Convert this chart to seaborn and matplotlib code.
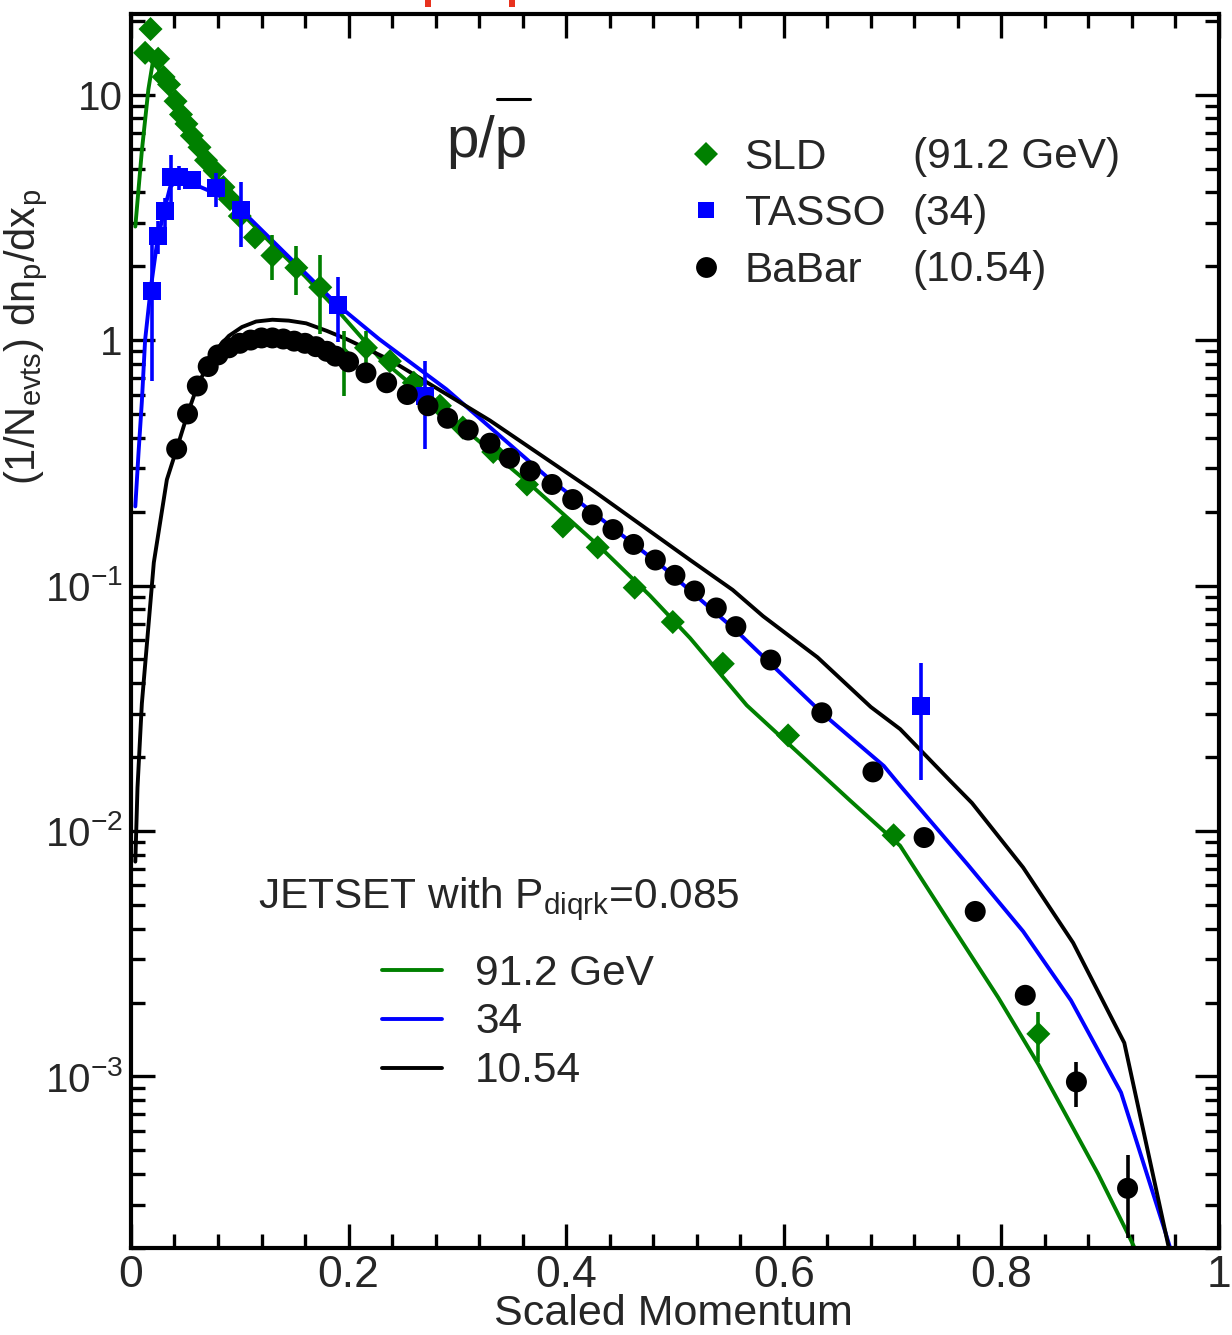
import numpy as np
import pandas as pd
import matplotlib
matplotlib.use("Agg")
import matplotlib.pyplot as plt
import seaborn as sns
from matplotlib.lines import Line2D
from matplotlib.patches import Rectangle
from matplotlib.ticker import MultipleLocator, LogLocator, FuncFormatter, NullFormatter

# ---------------- data ----------------
sld_x = [0.013, 0.018, 0.025, 0.030, 0.035, 0.041, 0.046, 0.051, 0.056, 0.063, 0.069,
         0.077, 0.085, 0.091, 0.100, 0.114, 0.130, 0.152, 0.174, 0.196, 0.216, 0.238,
         0.260, 0.284, 0.305, 0.333, 0.364, 0.397, 0.429, 0.463, 0.498, 0.544, 0.604,
         0.701, 0.834]
sld_y = [14.8, 18.5, 14.0, 11.8, 11.0, 9.4, 8.3, 7.6, 6.8, 6.1, 5.4,
         4.9, 4.2, 3.75, 3.2, 2.62, 2.21, 1.97, 1.64, 0.84, 0.93, 0.82,
         0.67, 0.54, 0.44, 0.35, 0.258, 0.174, 0.143, 0.098, 0.071, 0.048, 0.0245,
         0.0096, 0.00149]
sld_err = [0, 0, 0, 0, 0, 0, 0, 0, 0, 0, 0,
           0, 0, 0, 0, 0, 0.46, 0.44, 0.58, 0.25, 0.16, 0,
           0, 0, 0, 0, 0, 0, 0, 0, 0, 0, 0,
           0, 0.00034]

tasso_x = [0.019, 0.025, 0.031, 0.037, 0.044, 0.056, 0.078, 0.101, 0.190, 0.270, 0.726]
tasso_y = [1.58, 2.65, 3.35, 4.6, 4.6, 4.5, 4.15, 3.4, 1.39, 0.59, 0.0322]
tasso_err = [0.9, 0.4, 0.45, 1.05, 0.5, 0.35, 0.65, 1.0, 0.41, 0.23, 0.016]

babar_x = [0.042, 0.052, 0.061, 0.071, 0.080, 0.090, 0.100, 0.110, 0.120, 0.130, 0.140,
           0.150, 0.160, 0.170, 0.180, 0.188, 0.200, 0.216, 0.235, 0.254, 0.273, 0.291,
           0.310, 0.330, 0.348, 0.367, 0.387, 0.406, 0.424, 0.443, 0.462, 0.482, 0.500,
           0.518, 0.538, 0.556, 0.588, 0.635, 0.682, 0.729, 0.776, 0.822, 0.869, 0.916]
babar_y = [0.36, 0.50, 0.65, 0.78, 0.87, 0.93, 0.97, 1.00, 1.02, 1.02, 1.01,
           0.99, 0.97, 0.94, 0.90, 0.86, 0.815, 0.735, 0.67, 0.60, 0.54, 0.48,
           0.43, 0.38, 0.33, 0.293, 0.258, 0.224, 0.194, 0.169, 0.147, 0.127, 0.110,
           0.095, 0.081, 0.068, 0.0497, 0.0303, 0.0174, 0.0094, 0.0047, 0.00214, 0.00095, 0.00035]
babar_err = [0] * 42 + [0.0002, 0.00013]

# JETSET curves
jet_912_x = [0.004, 0.010, 0.016, 0.020, 0.025, 0.030, 0.040, 0.050, 0.070, 0.100, 0.130,
             0.160, 0.190, 0.228, 0.305, 0.364, 0.430, 0.477, 0.514, 0.566, 0.661, 0.707,
             0.753, 0.797, 0.834, 0.889, 0.916, 0.930]
jet_912_y = [2.9, 5.9, 10.5, 13.5, 12.8, 11.4, 9.3, 7.7, 5.4, 3.35, 2.45,
             1.82, 1.32, 0.85, 0.44, 0.265, 0.145, 0.091, 0.061, 0.0325, 0.0133, 0.0087,
             0.0042, 0.0021, 0.00112, 0.00040, 0.00023, 0.00017]

jet_34_x = [0.004, 0.007, 0.010, 0.013, 0.018, 0.024, 0.030, 0.036, 0.045, 0.056, 0.078,
            0.101, 0.190, 0.228, 0.290, 0.382, 0.489, 0.557, 0.636, 0.692, 0.707, 0.769,
            0.820, 0.864, 0.910, 0.951, 0.960]
jet_34_y = [0.21, 0.35, 0.56, 1.0, 1.6, 2.5, 3.3, 4.2, 4.6, 4.35, 3.95,
            3.4, 1.39, 1.01, 0.63, 0.278, 0.119, 0.065, 0.030, 0.0184, 0.0153, 0.0073,
            0.0039, 0.00204, 0.00086, 0.00023, 0.00017]

jet_1054_x = [0.004, 0.006, 0.010, 0.021, 0.033, 0.042, 0.052, 0.061, 0.071, 0.080, 0.090,
              0.102, 0.115, 0.130, 0.145, 0.161, 0.180, 0.198, 0.238, 0.330, 0.424, 0.514,
              0.553, 0.581, 0.631, 0.680, 0.707, 0.753, 0.773, 0.820, 0.866, 0.913, 0.951,
              0.960]
jet_1054_y = [0.0075, 0.015, 0.033, 0.124, 0.27, 0.36, 0.50, 0.65, 0.80, 0.93, 1.04,
              1.13, 1.19, 1.21, 1.20, 1.17, 1.09, 1.01, 0.83, 0.47, 0.245, 0.127,
              0.096, 0.075, 0.051, 0.032, 0.026, 0.016, 0.013, 0.0071, 0.0035, 0.00137, 0.00023,
              0.00015]

energies = ["91.2 GeV", "34", "10.54"]
GREEN, BLUE, BLACK = "#008000", "#0000ff", "#000000"
palette = {"91.2 GeV": GREEN, "34": BLUE, "10.54": BLACK}

curves = pd.concat([
    pd.DataFrame({"x": jet_912_x, "y": jet_912_y, "energy": "91.2 GeV"}),
    pd.DataFrame({"x": jet_34_x, "y": jet_34_y, "energy": "34"}),
    pd.DataFrame({"x": jet_1054_x, "y": jet_1054_y, "energy": "10.54"}),
], ignore_index=True)

# ---------------- style ----------------
sns.set_theme(style="white")
plt.rcParams["font.family"] = ["Liberation Sans", "DejaVu Sans"]
plt.rcParams["mathtext.fontset"] = "custom"
plt.rcParams["mathtext.rm"] = "Liberation Sans"
plt.rcParams["mathtext.it"] = "Liberation Sans:italic"
plt.rcParams["mathtext.bf"] = "Liberation Sans:bold"

fig = plt.figure(figsize=(12.32, 13.35), dpi=100)
ax = fig.add_axes([0.1063, 0.0652, 0.8831, 0.9243])
ax.set_yscale("log")

sns.lineplot(data=curves, x="x", y="y", hue="energy", hue_order=energies,
             palette=palette, sort=False, estimator=None, linewidth=2.8,
             legend=False, ax=ax, zorder=2)

# data with error bars
series = [
    (sld_x, sld_y, sld_err, GREEN, "D", 150),
    (tasso_x, tasso_y, tasso_err, BLUE, "s", 170),
    (babar_x, babar_y, babar_err, BLACK, "o", 228),
]
for i, (xs, ys, es, c, m, s) in enumerate(series):
    ax.errorbar(xs, ys, yerr=es, fmt="none", ecolor=c, elinewidth=2.6,
                capsize=0, zorder=3 + i)
    sns.scatterplot(x=xs, y=ys, marker=m, s=s, color=c, edgecolor="none",
                    linewidth=0, ax=ax, zorder=3 + i, legend=False)

# ---------------- axes ----------------
ax.set_xlim(0, 1)
ax.set_ylim(2e-4, 21.3)
ax.xaxis.set_major_locator(MultipleLocator(0.2))
ax.xaxis.set_minor_locator(MultipleLocator(0.04))
ax.xaxis.set_major_formatter(FuncFormatter(lambda v, p: f"{v:g}"))
ax.yaxis.set_major_locator(LogLocator(base=10, numticks=20))
ax.yaxis.set_minor_locator(LogLocator(base=10, subs=np.arange(2, 10), numticks=20))
ax.yaxis.set_minor_formatter(NullFormatter())


def yfmt(v, p):
    e = int(round(np.log10(v)))
    if e == 0:
        return "1"
    if e == 1:
        return "10"
    return r"$10^{%d}$" % e


ax.yaxis.set_major_formatter(FuncFormatter(yfmt))
ax.tick_params(which="both", direction="in", top=True, right=True, bottom=True,
               left=True, width=2.4, color="black")
ax.tick_params(which="major", length=17)
ax.tick_params(which="minor", length=10)
ax.tick_params(axis="x", which="major", labelsize=32, pad=5)
ax.tick_params(axis="y", which="major", labelsize=29, pad=6)
for sp in ax.spines.values():
    sp.set_linewidth(3)
    sp.set_color("black")

ax.set_xlabel("Scaled Momentum", fontsize=31)
ax.xaxis.set_label_coords(0.4986, -0.0375)
ax.set_ylabel(r"(1/N$_{\mathrm{evts}}$) dn$_{\mathrm{p}}$/dx$_{\mathrm{p}}$", fontsize=30)
ax.yaxis.set_label_coords(-0.074, 0.738)

ax.text(0.3275, 0.896, "p/p", fontsize=42,
        ha="center", va="center", transform=ax.transAxes)
# bar over the antiproton p
ax.add_line(Line2D([(497 - 131) / 1087, (530 - 131) / 1087],
                   [(1248 - 97) / 1236] * 2, transform=ax.transAxes,
                   color="black", lw=2.2))

# legend for data
h1 = [Line2D([], [], marker="D", ls="none", color=GREEN, markersize=12, markeredgewidth=0),
      Line2D([], [], marker="s", ls="none", color=BLUE, markersize=12, markeredgewidth=0),
      Line2D([], [], marker="o", ls="none", color=BLACK, markersize=15, markeredgewidth=0)]
leg1 = ax.legend(h1, ["SLD", "TASSO", "BaBar"], loc="upper left",
                 bbox_to_anchor=(0.5095, 0.8997), frameon=False, fontsize=30.5,
                 handlelength=1.0, handletextpad=0.4, labelspacing=0.39,
                 borderpad=0, borderaxespad=0)
ax.add_artist(leg1)
for lab, yy in zip(["(91.2 GeV)", "(34)", "(10.54)"], [0.8843, 0.8382, 0.7929]):
    ax.text(0.7185, yy, lab, fontsize=30.5, ha="left", va="center",
            transform=ax.transAxes)

# legend for JETSET curves
ax.text(0.1168, 0.2751, r"JETSET with P$_{\mathrm{diqrk}}$=0.085", fontsize=30.5,
        ha="left", va="baseline", transform=ax.transAxes)
h2 = [Line2D([], [], color=palette[e], lw=2.8) for e in energies]
ax.legend(h2, energies, loc="upper left", bbox_to_anchor=(0.2309, 0.2386),
          frameon=False, fontsize=30.5, handlelength=1.415, handletextpad=0.78,
          labelspacing=0.21, borderpad=0, borderaxespad=0)

# red remnants of a clipped title at the top edge
for xp in [428, 512]:
    fig.add_artist(Rectangle(((xp - 3) / 1232, 1 - 7 / 1335), 6 / 1232, 7 / 1335,
                             transform=fig.transFigure, color="#e8321e", lw=0))

fig.savefig("out.png", dpi=100)
